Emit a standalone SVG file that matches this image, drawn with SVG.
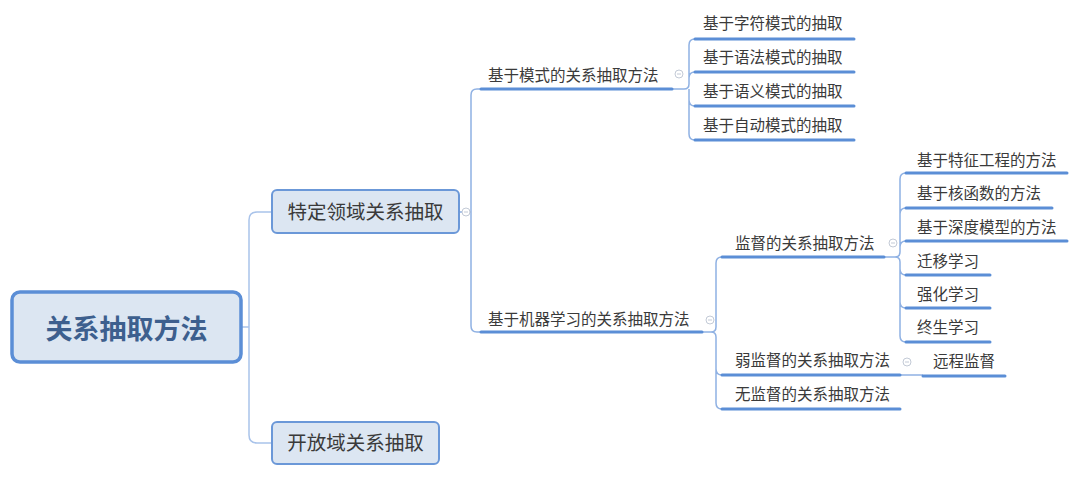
<svg xmlns="http://www.w3.org/2000/svg" width="1080" height="479" viewBox="0 0 1080 479">
<style>
text{font-family:"Noto Sans CJK SC","Noto Sans",sans-serif;fill:#3a3a3a}
.t{font-size:15.5px}
.b2{font-size:19.5px}
.root{font-size:27px;font-weight:bold;fill:#3d5f8e}
.ul{stroke:#5b8ed6;stroke-width:3;stroke-linecap:round}
.c{fill:none;stroke:#8fb1e3;stroke-width:1.5}
.c0{fill:none;stroke:#a9c3ea;stroke-width:1.5}
.box{fill:#dce6f2;stroke:#6b98d8;stroke-width:2}
.rbox{fill:#dce6f2;stroke:#5b8ed6;stroke-width:3.5}
.col{fill:#fff;stroke:#c3cad6;stroke-width:1}
.colm{stroke:#c3cad6;stroke-width:1}
</style>
<rect width="1080" height="479" fill="#fff"/>
<g id="connectors">
<path class="c0" d="M241,327 H249 M249,327 V220 Q249,212 257,212 H272 M249,327 V435 Q249,443 257,443 H272"/>
<path class="c" d="M459,212 H471 M471,212 V95 Q471,89 477,89 H481 M471,212 V326 Q471,332 477,332 H481"/>
<path class="c" d="M672,89 H684 Q689,89 689,84 V45 Q689,39 695,39 M689,84 V78 Q689,72 695,72 M689,89 Q689,94 689,100 Q689,106 695,106 M689,100 V134 Q689,140 695,140"/>
<path class="c" d="M702,332 H711 Q716,332 716,327 V263 Q716,257 722,257 M716,337 V369 Q716,375 722,375 M716,337 Q716,332 711,332 M716,369 V403 Q716,409 722,409"/>
<path class="c" d="M884,257 H895 Q900,257 900,252 V179 Q900,173 906,173 M900,214 Q900,208 906,208 M900,247 Q900,241 906,241 M900,262 Q900,257 895,257 M900,262 V269 Q900,275 906,275 M900,269 V302 Q900,308 906,308 M900,302 V336 Q900,342 906,342"/>
<path class="c" d="M900,375 H923"/>
</g>
<g id="root">
<rect class="rbox" x="12" y="292" width="229" height="70" rx="8"/>
<text class="root" x="126.5" y="339" text-anchor="middle">关系抽取方法</text>
</g>
<g id="n-specific">
<rect class="box" x="272" y="190" width="187" height="43" rx="5"/>
<text class="b2" x="365.5" y="219" text-anchor="middle">特定领域关系抽取</text>
<circle class="col" cx="466" cy="212" r="4"/><path class="colm" d="M464,212 H468"/>
</g>
<g id="n-open">
<rect class="box" x="272" y="422" width="167" height="42" rx="5"/>
<text class="b2" x="355.5" y="450" text-anchor="middle">开放域关系抽取</text>
</g>
<g id="n-pattern">
<text class="t" x="488" y="81">基于模式的关系抽取方法</text>
<line class="ul" x1="481" y1="89" x2="672" y2="89"/>
<circle class="col" cx="679" cy="74" r="4"/><path class="colm" d="M677,74 H681"/>
</g>
<g id="n-p1"><text class="t" x="703" y="29">基于字符模式的抽取</text><line class="ul" x1="695" y1="39" x2="854" y2="39"/></g>
<g id="n-p2"><text class="t" x="703" y="63">基于语法模式的抽取</text><line class="ul" x1="695" y1="72" x2="854" y2="72"/></g>
<g id="n-p3"><text class="t" x="703" y="97">基于语义模式的抽取</text><line class="ul" x1="695" y1="106" x2="854" y2="106"/></g>
<g id="n-p4"><text class="t" x="703" y="131">基于自动模式的抽取</text><line class="ul" x1="695" y1="140" x2="854" y2="140"/></g>
<g id="n-ml">
<text class="t" x="488" y="325">基于机器学习的关系抽取方法</text>
<line class="ul" x1="481" y1="332" x2="702" y2="332"/>
<circle class="col" cx="710" cy="320" r="4"/><path class="colm" d="M708,320 H712"/>
</g>
<g id="n-sup">
<text class="t" x="735" y="249">监督的关系抽取方法</text>
<line class="ul" x1="722" y1="257" x2="884" y2="257"/>
<circle class="col" cx="893" cy="243" r="4"/><path class="colm" d="M891,243 H895"/>
</g>
<g id="n-weak">
<text class="t" x="735" y="366">弱监督的关系抽取方法</text>
<line class="ul" x1="722" y1="375" x2="900" y2="375"/>
<circle class="col" cx="907" cy="362" r="4"/><path class="colm" d="M905,362 H909"/>
</g>
<g id="n-unsup">
<text class="t" x="735" y="400">无监督的关系抽取方法</text>
<line class="ul" x1="722" y1="409" x2="900" y2="409"/>
</g>
<g id="n-s1"><text class="t" x="917" y="166">基于特征工程的方法</text><line class="ul" x1="906" y1="173" x2="1067" y2="173"/></g>
<g id="n-s2"><text class="t" x="917" y="199">基于核函数的方法</text><line class="ul" x1="906" y1="208" x2="1052" y2="208"/></g>
<g id="n-s3"><text class="t" x="917" y="233">基于深度模型的方法</text><line class="ul" x1="906" y1="241" x2="1067" y2="241"/></g>
<g id="n-s4"><text class="t" x="917" y="267">迁移学习</text><line class="ul" x1="906" y1="275" x2="990" y2="275"/></g>
<g id="n-s5"><text class="t" x="917" y="300">强化学习</text><line class="ul" x1="906" y1="308" x2="990" y2="308"/></g>
<g id="n-s6"><text class="t" x="917" y="333">终生学习</text><line class="ul" x1="906" y1="342" x2="990" y2="342"/></g>
<g id="n-distant"><text class="t" x="933" y="367">远程监督</text><line class="ul" x1="923" y1="376" x2="1005" y2="376"/></g>
</svg>
